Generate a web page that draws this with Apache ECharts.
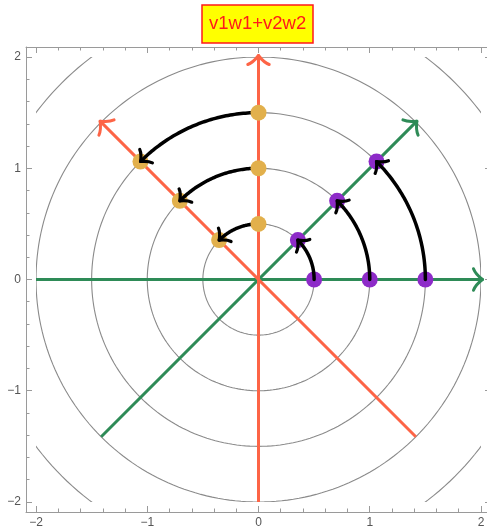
<!DOCTYPE html>
<html><head><meta charset="utf-8">
<script src="https://cdn.jsdelivr.net/npm/echarts@6/dist/echarts.min.js"></script>
<style>html,body{margin:0;padding:0;background:#fff}#c{width:487px;height:530px}</style>
</head><body><div id="c"></div>
<script>
const titleText = 'v1w1+v2w2';
const majorTicks = [-2, -1, 0, 1, 2];
const minorTicks = [-1.8, -1.6, -1.4, -1.2, -0.8, -0.6, -0.4, -0.2, 0.2, 0.4, 0.6, 0.8, 1.2, 1.4, 1.6, 1.8];
const circleRadii = [0.5, 1, 1.5, 2, 2.5];
const v1Points = [[0.5, 0], [1, 0], [1.5, 0]];
const w1Points = [[0.354, 0.354], [0.707, 0.707], [1.061, 1.061]];
const v2Points = [[0, 0.5], [0, 1], [0, 1.5]];
const w2Points = [[-0.354, 0.354], [-0.707, 0.707], [-1.061, 1.061]];
const greenAxes = [[-2, 0, 2, 0], [-1.414, -1.414, 1.414, 1.414]];
const redAxes = [[0, -2, 0, 2], [1.414, -1.414, -1.414, 1.414]];
const plotBox = [-2, 2];

const GREEN = '#2e8b57', RED = '#fd6446', PURPLE = '#8d2bc8', ORANGE = '#e2b04c';
const FRAME = '#9a9a9a';

const arcPairs1 = v1Points.map((p, i) => [p[0], p[1], w1Points[i][0], w1Points[i][1]]);
const arcPairs2 = v2Points.map((p, i) => [p[0], p[1], w2Points[i][0], w2Points[i][1]]);

function fmt(v) { return v < 0 ? '\u2212' + Math.abs(v) : String(v); }

function head(tip, dx, dy, len, half, color, width) {
  const bx = -dx, by = -dy;
  const c = Math.cos(half), s = Math.sin(half);
  const a1 = [tip[0] + len * (bx * c - by * s), tip[1] + len * (bx * s + by * c)];
  const a2 = [tip[0] + len * (bx * c + by * s), tip[1] + len * (-bx * s + by * c)];
  const bow = 0.18 * len;
  const m1 = [(a1[0] + tip[0]) / 2 + bx * bow, (a1[1] + tip[1]) / 2 + by * bow];
  const m2 = [(a2[0] + tip[0]) / 2 + bx * bow, (a2[1] + tip[1]) / 2 + by * bow];
  const st = { stroke: color, lineWidth: width, fill: null, lineCap: 'round' };
  return [
    { type: 'bezierCurve', shape: { x1: a1[0], y1: a1[1], cpx1: m1[0], cpy1: m1[1], x2: tip[0], y2: tip[1] }, style: st },
    { type: 'bezierCurve', shape: { x1: a2[0], y1: a2[1], cpx1: m2[0], cpy1: m2[1], x2: tip[0], y2: tip[1] }, style: st }
  ];
}

function clipRect(api) {
  const p1 = api.coord([plotBox[0], plotBox[1]]);
  const p2 = api.coord([plotBox[1], plotBox[0]]);
  return { type: 'rect', shape: { x: p1[0], y: p1[1], width: p2[0] - p1[0], height: p2[1] - p1[1] } };
}

function circleRender(params, api) {
  const r = api.value(0);
  const pts = [];
  for (let k = 0; k <= 240; k++) {
    const a = k / 240 * Math.PI * 2;
    pts.push(api.coord([r * Math.cos(a), r * Math.sin(a)]));
  }
  return {
    type: 'group',
    clipPath: clipRect(api),
    children: [{ type: 'polyline', shape: { points: pts }, style: { stroke: '#8a8a8a', lineWidth: 1.1, fill: null } }]
  };
}

function arrowLineRender(color) {
  return function (params, api) {
    const p1 = api.coord([api.value(0), api.value(1)]);
    const p2 = api.coord([api.value(2), api.value(3)]);
    let dx = p2[0] - p1[0], dy = p2[1] - p1[1];
    const L = Math.hypot(dx, dy); dx /= L; dy /= L;
    const tip = [p2[0] + dx * 1.5, p2[1] + dy * 1.5];
    return {
      type: 'group',
      children: [
        { type: 'line', shape: { x1: p1[0], y1: p1[1], x2: tip[0] - dx, y2: tip[1] - dy }, style: { stroke: color, lineWidth: 3 } }
      ].concat(head(tip, dx, dy, 14, 50 * Math.PI / 180, color, 3))
    };
  };
}

function arcRender(params, api) {
  const x1 = api.value(0), y1 = api.value(1), x2 = api.value(2), y2 = api.value(3);
  const r = Math.hypot(x1, y1);
  const a0 = Math.atan2(y1, x1), a1 = Math.atan2(y2, x2);
  const pts = [];
  const N = 60;
  for (let k = 0; k <= N; k++) {
    const a = a0 + (a1 - a0) * k / N;
    pts.push(api.coord([r * Math.cos(a), r * Math.sin(a)]));
  }
  const last = pts[N], prev = pts[N - 4];
  let dx = last[0] - prev[0], dy = last[1] - prev[1];
  const L = Math.hypot(dx, dy); dx /= L; dy /= L;
  return {
    type: 'group',
    children: [
      { type: 'polyline', shape: { points: pts.slice(0, N) }, style: { stroke: '#000', lineWidth: 3.5, fill: null, lineCap: 'round' } }
    ].concat(head(last, dx, dy, 12, 50 * Math.PI / 180, '#000', 3.2))
  };
}

function xAx(pos, ticks, len, showLine, showLabel) {
  return {
    type: 'value', position: pos, min: -2.09, max: 2.09, gridIndex: 0,
    axisLine: { show: showLine, onZero: false, lineStyle: { color: FRAME, width: 1 } },
    axisTick: { show: true, inside: true, length: len, customValues: ticks, lineStyle: { color: FRAME, width: 1 } },
    axisLabel: { show: showLabel, customValues: majorTicks, formatter: fmt, color: '#555', fontSize: 12, margin: 5, fontFamily: 'Liberation Sans', hideOverlap: false },
    splitLine: { show: false }
  };
}

const chart = echarts.init(document.getElementById('c'), null, { renderer: 'canvas' });
chart.setOption({
  animation: false,
  backgroundColor: '#fff',
  title: {
    text: titleText, left: 202, top: 5, padding: [8, 7, 8, 7],
    backgroundColor: '#ffff00', borderColor: '#ff1a1a', borderWidth: 1.5,
    textStyle: { color: '#ff1a1a', fontSize: 18.5, fontWeight: 'normal', fontFamily: 'Liberation Sans', lineHeight: 22 }
  },
  grid: { left: 26, top: 47, width: 465, height: 465, containLabel: false, outerBoundsMode: 'none' },
  xAxis: [
    xAx('bottom', majorTicks, 6, true, true),
    xAx('bottom', minorTicks, 3.5, false, false),
    xAx('top', majorTicks, 6, true, false),
    xAx('top', minorTicks, 3.5, false, false)
  ],
  yAxis: [
    xAx('left', majorTicks, 6, true, true),
    xAx('left', minorTicks, 3.5, false, false),
    xAx('right', majorTicks, 6, true, false),
    xAx('right', minorTicks, 3.5, false, false)
  ],
  series: [
    { type: 'custom', renderItem: circleRender, data: circleRadii.map(r => [r, 0]), z: 1, silent: true },
    { type: 'custom', renderItem: arrowLineRender(GREEN), data: greenAxes, z: 2, silent: true },
    { type: 'custom', renderItem: arrowLineRender(RED), data: redAxes, z: 2, silent: true },
    { type: 'scatter', data: v1Points.concat(w1Points), symbolSize: 16, itemStyle: { color: PURPLE, opacity: 1 }, z: 3, silent: true },
    { type: 'scatter', data: w2Points, symbolSize: 16, itemStyle: { color: ORANGE, opacity: 1 }, z: 3, silent: true },
    { type: 'custom', renderItem: arcRender, data: arcPairs1.concat(arcPairs2), z: 4, silent: true },
    { type: 'scatter', data: v2Points, symbolSize: 16, itemStyle: { color: ORANGE, opacity: 1 }, z: 5, silent: true }
  ]
});
</script>
</body></html>
